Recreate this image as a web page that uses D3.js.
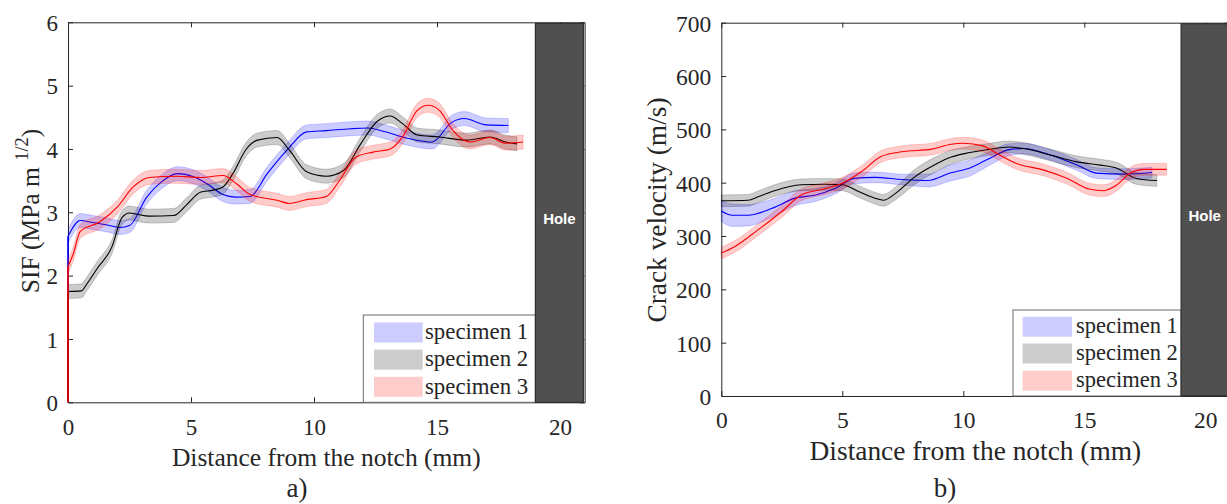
<!DOCTYPE html>
<html><head><meta charset="utf-8">
<script src="https://cdn.jsdelivr.net/npm/d3@7"></script>
<style>body{margin:0;background:#fff}svg{display:block}</style>
</head><body>
<svg id="chart" width="1227" height="504"></svg>
<script>
// ---------------- data ----------------
const legendLabels = ["specimen 1", "specimen 2", "specimen 3"];
const seriesColors = ["#0000ff", "#000000", "#ff0000"];
const xTicks = [0, 5, 10, 15, 20];
const sifTicks = [0, 1, 2, 3, 4, 5, 6];
const velTicks = [0, 100, 200, 300, 400, 500, 600, 700];
const holeRange = [19, 20.95];
const holeLabel = "Hole";
const xLabelText = "Distance from the notch (mm)";
const velLabelText = "Crack velocity (m/s)";

// a) SIF (MPa m^1/2)
const sifX1 = [0, 0.5, 1.0, 1.6, 2.1, 2.5, 3.2, 3.8, 4.45, 5.1, 5.65, 6.3, 6.8, 7.4, 8.1, 8.9, 9.7, 10.5, 11.5, 12.2, 12.8, 13.9, 14.8, 15.6, 16.1, 17.0, 17.9];
const sifY1 = [2.62, 2.87, 2.84, 2.80, 2.76, 2.79, 3.24, 3.48, 3.61, 3.56, 3.45, 3.28, 3.24, 3.25, 3.61, 3.98, 4.27, 4.29, 4.32, 4.33, 4.28, 4.16, 4.11, 4.42, 4.48, 4.38, 4.37];
const sifX2 = [0, 0.55, 0.75, 1.2, 1.78, 2.2, 2.5, 2.8, 3.3, 4.3, 4.8, 5.4, 5.9, 6.3, 6.7, 7.25, 7.7, 8.5, 9.0, 9.7, 10.5, 11.2, 11.9, 12.55, 13.1, 13.6, 14.2, 15.1, 16.2, 17.15, 17.8, 18.25];
const sifY2 = [1.75, 1.76, 1.86, 2.12, 2.45, 2.92, 2.99, 2.97, 2.94, 2.95, 3.11, 3.32, 3.35, 3.40, 3.61, 4.00, 4.14, 4.18, 3.98, 3.64, 3.57, 3.66, 4.08, 4.43, 4.52, 4.40, 4.22, 4.19, 4.14, 4.19, 4.11, 4.08];
const sifX3 = [0, 0.22, 0.5, 1.3, 2.0, 2.65, 3.3, 4.4, 5.4, 6.3, 6.85, 7.4, 8.5, 9.0, 9.7, 10.5, 11.05, 11.7, 12.4, 13.1, 13.6, 14.2, 14.65, 15.1, 15.65, 16.35, 17.15, 17.8, 18.5];
const sifY3 = [2.14, 2.35, 2.70, 2.85, 3.08, 3.40, 3.55, 3.57, 3.55, 3.58, 3.45, 3.28, 3.19, 3.14, 3.20, 3.25, 3.51, 3.87, 3.95, 4.00, 4.19, 4.61, 4.69, 4.61, 4.29, 4.11, 4.18, 4.09, 4.11];
const sifErr = [0.11, 0.11, 0.11];

// b) crack velocity (m/s)
const velX1 = [0, 0.45, 1.1, 2.1, 3.05, 3.9, 4.7, 5.5, 6.35, 7.45, 8.55, 9.45, 10.3, 11.1, 11.9, 12.5, 13.6, 14.7, 15.5, 16.6, 17.8];
const velY1 = [347, 339, 339, 352, 371, 377, 389, 408, 410, 406, 404, 418, 428, 446, 462, 464, 452, 433, 418, 416, 419];
const velE1 = [20, 21, 20, 17, 14, 12, 10, 10, 10, 10, 12, 15, 15, 13, 11, 10, 10, 10, 10, 10, 10];
const velX2 = [0, 1.1, 1.55, 2.2, 3.3, 4.3, 5.0, 5.7, 6.35, 6.7, 7.2, 8.0, 8.8, 9.5, 10.1, 11.0, 11.9, 12.5, 13.6, 14.7, 15.65, 16.35, 17.15, 18.0];
const velY2 = [366, 367, 374, 385, 396, 397, 396, 383, 371, 367, 380, 411, 433, 448, 455, 462, 467, 464, 452, 439, 433, 427, 408, 404];
const velE2 = [11, 11, 11, 11, 11, 11, 11, 11, 11, 11, 12, 14, 14, 13, 12, 11, 11, 11, 11, 11, 11, 11, 11, 11];
const velX3 = [0, 0.55, 1.5, 2.5, 3.3, 4.3, 5.0, 5.8, 6.6, 7.45, 8.7, 9.5, 10.0, 10.8, 11.5, 12.2, 13.3, 14.3, 15.2, 15.8, 16.35, 16.9, 17.45, 18.4];
const velY3 = [268, 280, 311, 346, 377, 389, 399, 421, 449, 458, 463, 472, 474, 469, 452, 436, 424, 408, 388, 385, 396, 418, 425, 425];
const velE3 = [11];

// ---------------- drawing ----------------
const svg = d3.select("#chart");
const AXC = "#262626";
const SERIF = "'Liberation Serif','Times New Roman',serif";

function build(xs, ys, es) {
  return xs.map((x, i) => ({ x, y: ys[i], e: es.length > 1 ? es[i] : es[0] }));
}

const panels = [
  {
    box: { l: 68, r: 584.6, t: 22.3, b: 402.3 },
    yDomain: [0, 6], yTicks: sifTicks, startVertical: true,
    series: [build(sifX1, sifY1, [sifErr[0]]), build(sifX2, sifY2, [sifErr[1]]), build(sifX3, sifY3, [sifErr[2]])],
    tickFont: 23, labelFont: 25.5, xTickBase: 33, xLabelY: 466, yLabelX: 39, yLabelY: 211,
    legend: { l: 363.3, t: 315, rows: [332.5, 359.6, 386.8], sw: [374, 422.7], tx: 425, font: 22.8 },
    holeTextY: 219, caption: "a)", capX: 297, capY: 497, ylabel: "sif"
  },
  {
    box: { l: 721.3, r: 1229.5, t: 22.7, b: 396 },
    yDomain: [0, 700], yTicks: velTicks, startVertical: false,
    series: [build(velX1, velY1, velE1), build(velX2, velY2, velE2), build(velX3, velY3, velE3)],
    tickFont: 23.5, labelFont: 27.4, xTickBase: 32, xLabelY: 460, yLabelX: 666, yLabelY: 210,
    legend: { l: 1013, t: 310, rows: [326.7, 353.5, 380.7], sw: [1022.6, 1072], tx: 1076, font: 22.5 },
    holeTextY: 216, caption: "b)", capX: 945, capY: 497, ylabel: "vel"
  }
];

panels.forEach(p => {
  const B = p.box;
  const x = d3.scaleLinear().domain([0, 21]).range([B.l, B.r]);
  const y = d3.scaleLinear().domain(p.yDomain).range([B.b, B.t]);
  const g = svg.append("g");
  const fmt = d3.format("d");

  // axes (MATLAB box style, inward ticks)
  const styleAxis = sel => {
    sel.select(".domain").attr("stroke", AXC).attr("stroke-width", 1);
    sel.selectAll(".tick line").attr("stroke", AXC).attr("stroke-width", 1);
    sel.selectAll(".tick text").attr("fill", AXC).attr("font-family", SERIF).attr("font-size", p.tickFont);
  };
  g.append("g").attr("transform", `translate(0,${B.t})`)
    .call(d3.axisTop(x).tickValues(xTicks).tickSizeInner(-5).tickSizeOuter(0).tickFormat(""))
    .call(styleAxis);
  g.append("g").attr("transform", `translate(${B.r},0)`)
    .call(d3.axisRight(y).tickValues(p.yTicks).tickSizeInner(-5).tickSizeOuter(0).tickFormat(""))
    .call(styleAxis);
  const xa = g.append("g").attr("transform", `translate(0,${B.b})`)
    .call(d3.axisBottom(x).tickValues(xTicks).tickFormat(fmt).tickSizeInner(-5).tickSizeOuter(0).tickPadding(0))
    .call(styleAxis);
  xa.selectAll(".tick text").attr("dy", null).attr("y", p.xTickBase);
  const ya = g.append("g").attr("transform", `translate(${B.l},0)`)
    .call(d3.axisLeft(y).tickValues(p.yTicks).tickFormat(fmt).tickSizeInner(-5).tickSizeOuter(0).tickPadding(10))
    .call(styleAxis);
  ya.selectAll(".tick text").attr("dy", "0.36em");

  // bands and lines
  const area = d3.area().x(d => x(d.x)).y0(d => y(d.y - d.e)).y1(d => y(d.y + d.e)).curve(d3.curveMonotoneX);
  const line = d3.line().x(d => x(d.x)).y(d => y(d.y)).curve(d3.curveMonotoneX);
  p.series.forEach((s, i) => {
    const c = seriesColors[i];
    g.append("path").attr("d", area(s)).attr("fill", c).attr("fill-opacity", 0.2)
      .attr("stroke", c).attr("stroke-opacity", 0.18).attr("stroke-width", 1);
    if (p.startVertical) {
      g.append("line").attr("x1", x(0)).attr("x2", x(0)).attr("y1", y(0)).attr("y2", y(s[0].y))
        .attr("stroke", c).attr("stroke-width", 1.6);
    }
    g.append("path").attr("d", line(s)).attr("fill", "none").attr("stroke", c).attr("stroke-width", 1.1);
  });

  // legend
  const L = p.legend;
  g.append("rect").attr("x", L.l).attr("y", L.t).attr("width", x(holeRange[0]) - L.l).attr("height", B.b - L.t)
    .attr("fill", "#fff").attr("stroke", "#6a6a6a").attr("stroke-width", 1);
  legendLabels.forEach((lab, i) => {
    g.append("rect").attr("x", L.sw[0]).attr("y", L.rows[i] - 10).attr("width", L.sw[1] - L.sw[0]).attr("height", 20)
      .attr("fill", seriesColors[i]).attr("fill-opacity", 0.2);
    g.append("text").attr("x", L.tx).attr("y", L.rows[i]).attr("dy", "0.3em")
      .attr("font-family", SERIF).attr("font-size", L.font).attr("fill", AXC).text(lab);
  });

  // hole
  g.append("rect").attr("x", x(holeRange[0])).attr("y", B.t + 1)
    .attr("width", x(holeRange[1]) - x(holeRange[0])).attr("height", B.b - B.t - 1)
    .attr("fill", "#505050").attr("stroke", "#2e2e2e").attr("stroke-width", 1.2);
  g.append("text").attr("x", (x(holeRange[0]) + x(holeRange[1])) / 2).attr("y", p.holeTextY).attr("dy", "0.35em")
    .attr("text-anchor", "middle").attr("font-family", "'Liberation Sans',Arial,sans-serif")
    .attr("font-weight", "bold").attr("font-size", 15).attr("fill", "#fff").text(holeLabel);

  // labels
  g.append("text").attr("x", (B.l + B.r) / 2).attr("y", p.xLabelY).attr("text-anchor", "middle")
    .attr("font-family", SERIF).attr("font-size", p.labelFont).attr("fill", AXC).text(xLabelText);
  const yl = g.append("text").attr("transform", `translate(${p.yLabelX},${p.yLabelY}) rotate(-90)`)
    .attr("text-anchor", "middle").attr("font-family", SERIF).attr("font-size", p.labelFont).attr("fill", AXC);
  if (p.ylabel === "sif") {
    yl.append("tspan").text("SIF (MPa m ");
    yl.append("tspan").attr("dy", -11).attr("font-size", p.labelFont * 0.72).text("1/2");
    yl.append("tspan").attr("dy", 11).text(")");
  } else {
    yl.text(velLabelText);
  }
  g.append("text").attr("x", p.capX).attr("y", p.capY).attr("text-anchor", "middle")
    .attr("font-family", SERIF).attr("font-size", 27).attr("fill", AXC).text(p.caption);
});
</script>
</body></html>
